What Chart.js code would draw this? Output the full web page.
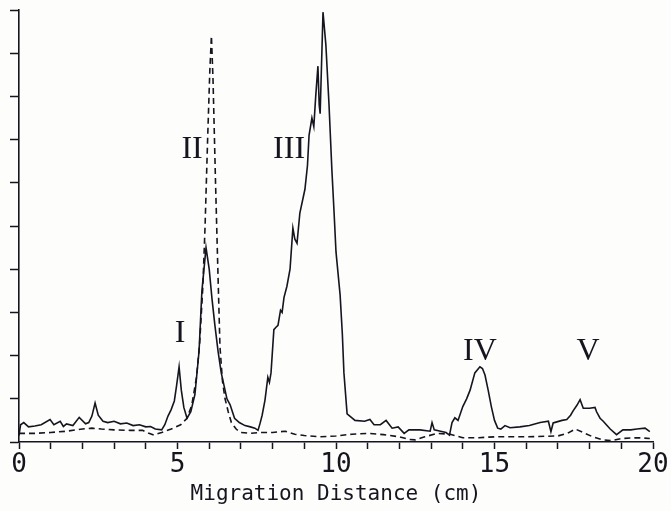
<!DOCTYPE html>
<html lang="en">
<head>
    <meta charset="UTF-8">
    <title>Migration Distance</title>
    <script src="https://cdn.jsdelivr.net/npm/chart.js"></script>
    <style>
        html, body { margin: 0; padding: 0; background: #fdfdfc; }
        #wrap { width: 671px; height: 511px; position: relative; }
    </style>
</head>
<body>
<div id="wrap"><canvas id="scan"></canvas></div>
<script>
// solid trace
const solidX = [0, 0.05, 0.15, 0.3, 0.5, 0.7, 0.98, 1.1, 1.3, 1.4,
    1.5, 1.7, 1.9, 2.1, 2.2, 2.3, 2.4, 2.5, 2.65, 2.8,
    3.0, 3.2, 3.4, 3.6, 3.8, 4.0, 4.15, 4.3, 4.5, 4.6,
    4.7, 4.8, 4.9, 4.97, 5.05, 5.12, 5.2, 5.3, 5.42, 5.55,
    5.68, 5.77, 5.9, 6.0, 6.09, 6.18, 6.28, 6.38, 6.47, 6.56,
    6.66, 6.8, 6.95, 7.13, 7.3, 7.44, 7.54, 7.6, 7.67, 7.76,
    7.85, 7.9, 7.95, 8.04, 8.1, 8.17, 8.25, 8.3, 8.36, 8.45,
    8.55, 8.64, 8.7, 8.77, 8.86, 9.02, 9.1, 9.15, 9.24, 9.3,
    9.36, 9.43, 9.47, 9.5, 9.59, 9.68, 9.78, 9.87, 9.94, 10.0,
    10.13, 10.2, 10.25, 10.35, 10.6, 10.9, 11.07, 11.2, 11.4, 11.58,
    11.77, 11.96, 12.15, 12.3, 12.65, 12.97, 13.03, 13.1, 13.3, 13.47,
    13.58, 13.66, 13.75, 13.85, 14.0, 14.12, 14.23, 14.38, 14.54, 14.62,
    14.7, 14.8, 14.9, 15.0, 15.1, 15.2, 15.33, 15.49, 15.8, 16.1,
    16.44, 16.7, 16.78, 16.85, 16.94, 17.13, 17.28, 17.4, 17.48, 17.6,
    17.7, 17.8, 18.0, 18.17, 18.22, 18.33, 18.43, 18.55, 18.65, 18.85,
    19.05, 19.3, 19.49, 19.75, 19.9];
const solidY = [0.15, 0.4, 0.45, 0.35, 0.37, 0.4, 0.52, 0.4, 0.48, 0.36,
    0.42, 0.38, 0.57, 0.42, 0.45, 0.6, 0.9, 0.62, 0.48, 0.45,
    0.48, 0.42, 0.44, 0.38, 0.4, 0.35, 0.36, 0.3, 0.28, 0.4,
    0.6, 0.75, 0.95, 1.3, 1.74, 1.2, 0.8, 0.55, 0.7, 1.1,
    2.1, 3.5, 4.5, 4.0, 3.3, 2.7, 2.1, 1.6, 1.3, 1.0,
    0.86, 0.55, 0.45, 0.38, 0.35, 0.32, 0.27, 0.42, 0.62, 0.97,
    1.5, 1.38, 1.6, 2.6, 2.65, 2.7, 3.05, 3.0, 3.35, 3.6,
    4.0, 4.95, 4.7, 4.6, 5.3, 5.85, 6.4, 7.1, 7.5, 7.3,
    8.0, 8.7, 7.8, 7.6, 9.95, 9.2, 7.8, 6.3, 5.3, 4.4,
    3.4, 2.5, 1.6, 0.65, 0.5, 0.48, 0.52, 0.4, 0.4, 0.5,
    0.32, 0.35, 0.2, 0.28, 0.28, 0.25, 0.45, 0.28, 0.25, 0.22,
    0.16, 0.45, 0.56, 0.5, 0.82, 1.0, 1.2, 1.6, 1.74, 1.7,
    1.55, 1.2, 0.82, 0.5, 0.32, 0.3, 0.38, 0.33, 0.35, 0.38,
    0.45, 0.48, 0.24, 0.44, 0.46, 0.5, 0.52, 0.62, 0.72, 0.85,
    0.98, 0.78, 0.78, 0.8, 0.7, 0.55, 0.48, 0.38, 0.3, 0.17,
    0.28, 0.28, 0.3, 0.32, 0.24];

// dashed trace
const dashX = [0, 0.5, 1, 1.5, 2, 2.3, 2.6, 3, 3.5, 3.9,
    4.1, 4.25, 4.5, 4.8, 5.1, 5.3, 5.45, 5.6, 5.7, 5.8,
    5.87, 5.95, 6.02, 6.07, 6.12, 6.2, 6.28, 6.34, 6.42, 6.5,
    6.6, 6.7, 6.85, 7.0, 7.3, 7.6, 8.0, 8.4, 8.7, 9.0,
    9.5, 10, 10.5, 11, 11.5, 12, 12.3, 12.5, 12.8, 13.2,
    13.6, 14, 14.5, 15, 16, 17, 17.3, 17.55, 17.8, 18.1,
    18.4, 18.7, 19, 19.5, 19.9];
const dashY = [0.2, 0.2, 0.22, 0.25, 0.3, 0.32, 0.3, 0.28, 0.27, 0.27,
    0.2, 0.16, 0.22, 0.3, 0.4, 0.55, 0.85, 1.5, 2.3, 3.6,
    5.0, 7.0, 8.6, 9.4, 8.4, 6.0, 3.8, 2.2, 1.4, 1.0,
    0.7, 0.45, 0.3, 0.22, 0.2, 0.22, 0.22, 0.25, 0.18, 0.15,
    0.12, 0.14, 0.18, 0.2, 0.17, 0.12, 0.06, 0.05, 0.12, 0.2,
    0.18, 0.1, 0.1, 0.12, 0.12, 0.14, 0.2, 0.3, 0.22, 0.12,
    0.05, 0.03, 0.08, 0.1, 0.08];

// band labels
const bandNames = ['I', 'II', 'III', 'IV', 'V'];
const bandX = [5.08, 5.46, 8.52, 14.54, 17.95];
const bandY = [2.52, 6.78, 6.78, 2.1, 2.1];

const ink = '#15151f';
const monoFont = '"DejaVu Sans Mono", monospace';

function pairs(xs, ys) {
    return xs.map((x, i) => ({ x: x, y: ys[i] }));
}

const paperBg = {
    id: 'paperBg',
    beforeDraw(chart) {
        const c = chart.ctx;
        c.save();
        c.fillStyle = '#fdfdfc';
        c.fillRect(0, 0, chart.width, chart.height);
        c.restore();
    }
};

const bandLabels = {
    id: 'bandLabels',
    afterDatasetsDraw(chart) {
        const c = chart.ctx;
        const xs = chart.scales.x, ys = chart.scales.y;
        c.save();
        c.fillStyle = ink;
        c.font = '32px "Liberation Serif", serif';
        c.textAlign = 'center';
        c.textBaseline = 'middle';
        bandNames.forEach((name, i) => {
            c.fillText(name, xs.getPixelForValue(bandX[i]), ys.getPixelForValue(bandY[i]));
        });
        c.restore();
    }
};

new Chart(document.getElementById('scan'), {
    type: 'line',
    data: {
        datasets: [
            {
                label: 'solid',
                data: pairs(solidX, solidY),
                borderColor: ink,
                borderWidth: 1.6,
                pointRadius: 0,
                tension: 0,
                fill: false
            },
            {
                label: 'dashed',
                data: pairs(dashX, dashY),
                borderColor: ink,
                borderWidth: 1.6,
                borderDash: [6, 4],
                pointRadius: 0,
                tension: 0,
                fill: false
            }
        ]
    },
    options: {
        responsive: true,
        maintainAspectRatio: false,
        animation: false,
        layout: { padding: { top: 10, right: 18, left: 0, bottom: 0 } },
        plugins: {
            legend: { display: false },
            tooltip: { enabled: false }
        },
        scales: {
            x: {
                type: 'linear',
                min: 0,
                max: 20,
                afterFit(scale) { scale.height = 69; },
                border: { display: true, color: ink, width: 1.6 },
                grid: {
                    drawOnChartArea: false,
                    drawTicks: true,
                    tickLength: 7,
                    tickColor: ink,
                    tickWidth: 1.5
                },
                ticks: {
                    stepSize: 1,
                    autoSkip: false,
                    maxRotation: 0,
                    padding: 1,
                    color: ink,
                    font: { family: monoFont, size: 26 },
                    callback: v => (v % 5 === 0 ? String(v) : '')
                },
                title: {
                    display: true,
                    text: 'Migration Distance (cm)',
                    color: ink,
                    font: { family: monoFont, size: 21 },
                    padding: { top: 0, bottom: 4 }
                }
            },
            y: {
                type: 'linear',
                min: 0,
                max: 10,
                afterFit(scale) { scale.width = 19; },
                border: { display: true, color: ink, width: 1.6 },
                grid: {
                    drawOnChartArea: false,
                    drawTicks: true,
                    tickLength: 9,
                    tickColor: ink,
                    tickWidth: 1.5
                },
                ticks: {
                    stepSize: 1,
                    display: false
                }
            }
        }
    },
    plugins: [paperBg, bandLabels]
});
</script>
</body>
</html>
